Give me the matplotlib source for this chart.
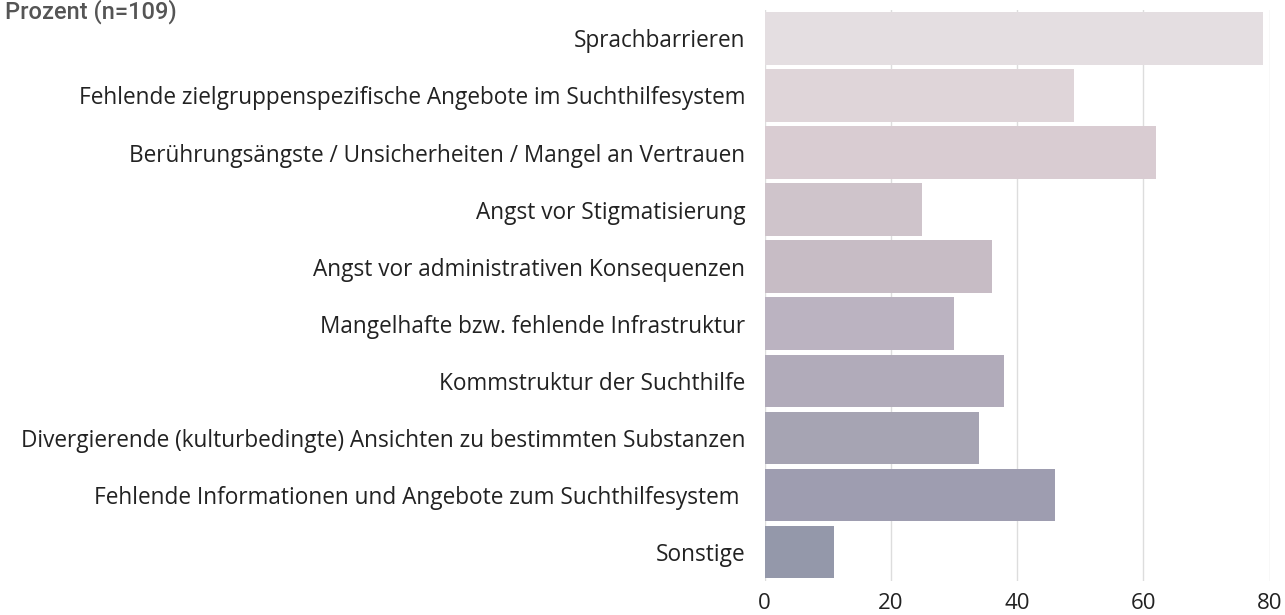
import matplotlib.pyplot as plt

categories = [
    "Sprachbarrieren",
    "Fehlende zielgruppenspezifische Angebote im Suchthilfesystem",
    "Berührungsängste / Unsicherheiten / Mangel an Vertrauen",
    "Angst vor Stigmatisierung",
    "Angst vor administrativen Konsequenzen",
    "Mangelhafte bzw. fehlende Infrastruktur",
    "Kommstruktur der Suchthilfe",
    "Divergierende (kulturbedingte) Ansichten zu bestimmten Substanzen",
    "Fehlende Informationen und Angebote zum Suchthilfesystem ",
    "Sonstige",
]
values = [79, 49, 62, 25, 36, 30, 38, 34, 46, 11]
colors = ["#e4dee1", "#dfd5d9", "#d9ccd2", "#cfc4cb", "#c7bcc5",
          "#bbb3c1", "#b1abba", "#a6a4b3", "#9e9db0", "#9498aa"]
xticks = [0, 20, 40, 60, 80]

plt.rcParams['font.family'] = ['Open Sans', 'DejaVu Sans']

fig = plt.figure(figsize=(12.85, 6.15), dpi=100)
ax = fig.add_axes([0.595, 0.056, 0.393, 0.928])

# bars, top category first
pos = list(range(len(categories)))
ax.barh(pos, values, height=0.92, color=colors, zorder=2)
ax.set_ylim(len(categories) - 0.5, -0.5)
ax.set_xlim(0, 80)

ax.set_yticks(pos)
ax.set_yticklabels(categories, fontsize=16.25, color="#222222")
ax.set_xticks(xticks)
ax.set_xticklabels([str(t) for t in xticks], fontsize=16, color="#222222")
ax.tick_params(axis='both', length=0)
ax.tick_params(axis='y', pad=14)
ax.tick_params(axis='x', pad=9)

# grid and spines
ax.grid(axis='x', color="#dddddd", linewidth=1, zorder=0)
for s in ax.spines.values():
    s.set_visible(False)

fig.text(0.004, 0.970, "Prozent (n=109)", fontsize=17, color="#555555",
         family=['Roboto', 'DejaVu Sans'], fontweight='medium',
         va='baseline', ha='left')

fig.savefig("out.png", dpi=100)
plt.close(fig)
